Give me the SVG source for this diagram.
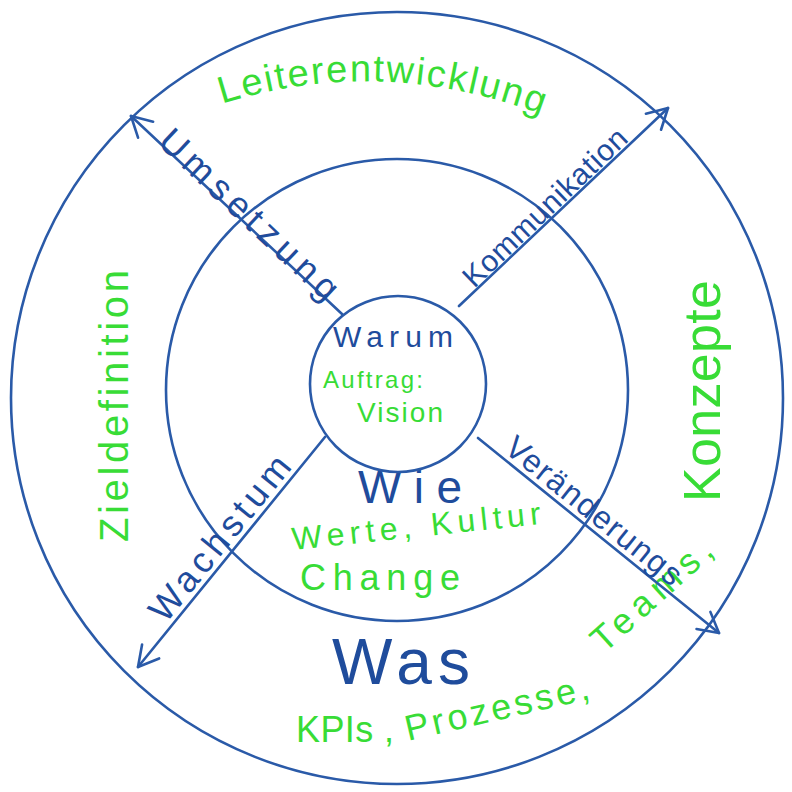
<svg xmlns="http://www.w3.org/2000/svg" width="792" height="792" viewBox="0 0 792 792">
<defs>
<style>
.ring{fill:none;stroke:#2a5aa8;stroke-width:2.6}
.conn{fill:none;stroke:#2a5aa8;stroke-width:2.6;stroke-linecap:round}
.b{fill:#1f4c9c;font-family:"Liberation Sans","DejaVu Sans",sans-serif}
.g{fill:#38dc36;font-family:"Liberation Sans","DejaVu Sans",sans-serif}
</style>
<marker id="arr" viewBox="-24 -14 28 28" markerWidth="28" markerHeight="28" refX="0" refY="0" orient="auto" markerUnits="userSpaceOnUse">
<path d="M -20 -11 L 0 0 L -20 11" fill="none" stroke="#2a5aa8" stroke-width="2.6" stroke-linecap="round" stroke-linejoin="round"/>
</marker>
<path id="pLeiter" d="M 222 104 Q 375 55 535 112"/>
</defs>
<rect width="792" height="792" fill="#ffffff"/>

<g id="ring-outer">
<circle class="ring" cx="397" cy="398" r="386"/>
<text class="g" font-size="38" letter-spacing="2"><textPath href="#pLeiter">Leiterentwicklung</textPath></text>
<text class="g" font-size="40" text-anchor="middle" textLength="272" lengthAdjust="spacing" transform="translate(128,406) rotate(-90)">Zieldefinition</text>
<text class="g" font-size="52" text-anchor="middle" textLength="222" lengthAdjust="spacing" transform="translate(720,391) rotate(-90)">Konzepte</text>
<text class="b" font-size="64" x="332" y="684" textLength="138" lengthAdjust="spacing">Was</text>
<text class="g" font-size="36" x="296" y="742" textLength="98" lengthAdjust="spacing">KPIs ,</text>
<text class="g" font-size="36" x="408" y="741" textLength="188" lengthAdjust="spacing" transform="rotate(-13 408 741)">Prozesse,</text>
<text class="g" font-size="36" x="604" y="654" textLength="150" lengthAdjust="spacing" transform="rotate(-42 604 654)">Teams,</text>
</g>

<g id="ring-middle">
<circle class="ring" cx="397" cy="390" r="231"/>
<text class="b" font-size="46" x="358" y="503" textLength="104" lengthAdjust="spacing">Wie</text>
<text class="g" font-size="32" x="293" y="550" textLength="250" lengthAdjust="spacing" transform="rotate(-6 293 550)">Werte, Kultur</text>
<text class="g" font-size="36" x="300" y="590" textLength="160" lengthAdjust="spacing">Change</text>
</g>

<g id="ring-inner">
<circle class="ring" cx="398" cy="384" r="88"/>
<text class="b" font-size="30" x="333" y="347" textLength="120" lengthAdjust="spacing">Warum</text>
<text class="g" font-size="24" x="323" y="388" textLength="100" lengthAdjust="spacing">Auftrag:</text>
<text class="g" font-size="28" x="357" y="422" textLength="86" lengthAdjust="spacing">Vision</text>
</g>

<g id="connectors">
<line class="conn" x1="342" y1="314" x2="131" y2="116" marker-end="url(#arr)"/>
<line class="conn" x1="459" y1="306" x2="668" y2="108" marker-end="url(#arr)"/>
<line class="conn" x1="478" y1="438" x2="719" y2="633" marker-end="url(#arr)"/>
<line class="conn" x1="325" y1="437" x2="138" y2="667" marker-end="url(#arr)"/>
<text class="b" font-size="36" text-anchor="middle" y="3" textLength="232" lengthAdjust="spacing" transform="translate(243,221) rotate(43.2)">Umsetzung</text>
<text class="b" font-size="30" text-anchor="middle" y="-3" textLength="215" lengthAdjust="spacing" transform="translate(554,217) rotate(-43.7)">Kommunikation</text>
<text class="b" font-size="32" text-anchor="middle" y="-5" textLength="217" lengthAdjust="spacing" transform="translate(584,523) rotate(38.9)">Veränderungs</text>
<text class="b" font-size="36" text-anchor="middle" y="-5" textLength="202" lengthAdjust="spacing" transform="translate(233,549) rotate(-50.9)">Wachstum</text>
</g>
</svg>
